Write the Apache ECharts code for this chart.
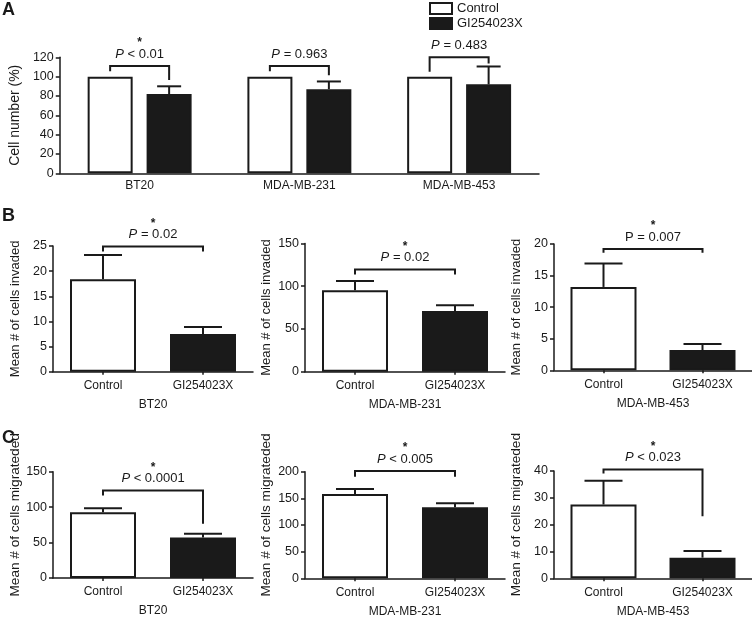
<!DOCTYPE html>
<html>
<head>
<meta charset="utf-8">
<script src="https://cdn.jsdelivr.net/npm/echarts@6/dist/echarts.min.js"></script>
<style>
html,body{margin:0;padding:0;background:#fff;}
#chart{width:752px;height:619px;}
</style>
</head>
<body>
<div id="chart"></div>
<script>
// ================= DATA =================
const cellLines = ['BT20', 'MDA-MB-231', 'MDA-MB-453'];
const treatments = ['Control', 'GI254023X'];

// Panel A: Cell number (%)
const aControl = [100, 100, 100];
const aControlErr = [0, 0, 0];
const aGI = [82, 87, 92];
const aGIErr = [8, 8, 18.5];
const aBracketTop = [111, 111, 120];
const aBracketLeftEnd = [105.5, 105.5, 105];
const aBracketRightEnd = [96.5, 101.5, 113.5];
const aPText = ['< 0.01', '= 0.963', '= 0.483'];
const aPItalic = [true, true, true];
const aStar = [true, false, false];
const aYTicks = [0, 20, 40, 60, 80, 100, 120];

// Panel B: Mean # of cells invaded
const bControl = [18.4, 95.3, 13.2];
const bControlErr = [4.8, 10.6, 3.7];
const bGI = [7.5, 71.1, 3.2];
const bGIErr = [1.4, 6.6, 0.95];
const bBracketTop = [24.9, 119.5, 19.2];
const bBracketLeftEnd = [23.9, 113.7, 18.6];
const bBracketRightEnd = [23.9, 113.7, 18.6];
const bPText = ['= 0.02', '= 0.02', '= 0.007'];
const bPItalic = [true, true, false];
const bStar = [true, true, true];
const bYTicks = [[0, 5, 10, 15, 20, 25], [0, 50, 100, 150], [0, 5, 10, 15, 20]];

// Panel C: Mean # of cells migrateded
const cControl = [92.9, 158.1, 27.5];
const cControlErr = [5.7, 9.4, 8.9];
const cGI = [57.1, 133.1, 7.7];
const cGIErr = [5.2, 7.5, 2.5];
const cBracketTop = [123.6, 201.3, 40.6];
const cBracketLeftEnd = [116.5, 190.6, 39.1];
const cBracketRightEnd = [76.4, 190.6, 23.1];
const cPText = ['< 0.0001', '< 0.005', '< 0.023'];
const cPItalic = [true, true, true];
const cStar = [true, true, true];
const cYTicks = [[0, 50, 100, 150], [0, 50, 100, 150, 200], [0, 10, 20, 30, 40]];

// ================= STYLE / LAYOUT =================
const FONT = '"Liberation Sans", Arial, Helvetica, sans-serif';
const INK = '#1a1a1a';
const WHITE = '#ffffff';
const colLeft = [53, 305, 554];
const colWidth = 200;

const grids = [], xAxes = [], yAxes = [], series = [];

function addAxes(g) {
  const gi = grids.length;
  grids.push({left: g.left, top: g.top, width: g.width, height: g.height});
  xAxes.push({
    type: 'category', gridIndex: gi, data: g.cats,
    axisLine: {lineStyle: {color: INK, width: 1.5}},
    axisTick: {show: g.xTick, alignWithLabel: true, length: 3, lineStyle: {color: INK, width: 1.5}},
    axisLabel: {color: INK, fontSize: 12, fontFamily: FONT, margin: g.labelMargin},
    name: g.xName || '', nameLocation: 'middle', nameGap: g.xNameGap || 0,
    nameTextStyle: {color: INK, fontSize: 12, fontFamily: FONT}
  });
  const t = g.ticks;
  yAxes.push({
    type: 'value', gridIndex: gi, min: t[0], max: t[t.length - 1], interval: t[1] - t[0],
    name: g.yName, nameLocation: 'middle', nameGap: g.yNameGap,
    nameTextStyle: {color: INK, fontSize: g.yNameSize, fontFamily: FONT, padding: g.yNamePad || 0},
    axisLine: {show: true, lineStyle: {color: INK, width: 1.5}},
    axisTick: {show: true, length: 4, lineStyle: {color: INK, width: 1.5}},
    axisLabel: {color: INK, fontSize: 12.5, fontFamily: FONT, margin: 6},
    splitLine: {show: false}
  });
  return gi;
}

function errorSeries(gi, items, slotOffset, capW) {
  // items: [catIndex, slot(-1/0/1), value, err]
  return {
    type: 'custom', xAxisIndex: gi, yAxisIndex: gi, clip: false, silent: true, z: 3,
    encode: {x: 0, y: 2}, data: items,
    renderItem: function (params, api) {
      const cat = api.value(0), slot = api.value(1), v = api.value(2), e = api.value(3);
      if (!e) return null;
      const base = api.coord([cat, v]);
      const top = api.coord([cat, v + e]);
      const x = base[0] + slot * slotOffset;
      return {type: 'group', children: [
        {type: 'line', shape: {x1: x, y1: base[1], x2: x, y2: top[1]}, style: {stroke: INK, lineWidth: 2}},
        {type: 'line', shape: {x1: x - capW / 2, y1: top[1], x2: x + capW / 2, y2: top[1]}, style: {stroke: INK, lineWidth: 2}}
      ]};
    }
  };
}

function bracketSeries(gi, items, labels, slotOffset) {
  // items: [leftCat, leftSlot, rightCat, rightSlot, top, leftEnd, rightEnd]
  return {
    type: 'custom', xAxisIndex: gi, yAxisIndex: gi, clip: false, silent: true, z: 4,
    encode: {x: 0, y: 4}, data: items,
    renderItem: function (params, api) {
      const lab = labels[params.dataIndex];
      const lc = api.value(0), ls = api.value(1), rc = api.value(2), rs = api.value(3);
      const top = api.value(4), le = api.value(5), re = api.value(6);
      const pt = api.coord([lc, top]);
      const xl = pt[0] + ls * slotOffset;
      const xr = api.coord([rc, top])[0] + rs * slotOffset;
      const yt = pt[1];
      const yl = api.coord([lc, le])[1];
      const yr = api.coord([rc, re])[1];
      const xm = (xl + xr) / 2;
      const txt = lab.italic ? '{i|P} ' + lab.p : 'P ' + lab.p;
      const children = [
        {type: 'polyline', shape: {points: [[xl, yl], [xl, yt], [xr, yt], [xr, yr]]},
         style: {stroke: INK, lineWidth: 2, fill: null}},
        {type: 'text', style: {
          text: txt, x: xm, y: yt - 12, align: 'center', verticalAlign: 'middle',
          fontSize: 13, fontFamily: FONT, fill: INK,
          rich: {i: {fontStyle: 'italic', fontSize: 13, fontFamily: FONT, fill: INK}}
        }}
      ];
      if (lab.star) {
        children.push({type: 'text', style: {
          text: '*', x: xm, y: yt - 23, align: 'center', verticalAlign: 'middle',
          fontSize: 12, fontWeight: 'bold', fontFamily: FONT, fill: INK
        }});
      }
      return {type: 'group', children: children};
    }
  };
}

// ---------- Panel A ----------
(function () {
  const gi = addAxes({left: 51, top: 57.3, width: 488, height: 116, cats: cellLines, xTick: false,
    labelMargin: 6, ticks: aYTicks, yName: 'Cell number (%)', yNameGap: 31, yNameSize: 14});
  const slot = 29.5;
  series.push({name: treatments[0], type: 'bar', xAxisIndex: gi, yAxisIndex: gi, barWidth: 45, barGap: '31%',
    itemStyle: {color: WHITE, borderColor: INK, borderWidth: 2}, data: aControl});
  series.push({name: treatments[1], type: 'bar', xAxisIndex: gi, yAxisIndex: gi, barWidth: 45, barGap: '31%',
    itemStyle: {color: INK, borderColor: INK, borderWidth: 2}, data: aGI});
  const err = [];
  cellLines.forEach(function (c, i) {
    err.push([i, -1, aControl[i], aControlErr[i]]);
    err.push([i, 1, aGI[i], aGIErr[i]]);
  });
  series.push(errorSeries(gi, err, slot, 24));
  const br = cellLines.map(function (c, i) {
    return [i, -1, i, 1, aBracketTop[i], aBracketLeftEnd[i], aBracketRightEnd[i]];
  });
  const labs = cellLines.map(function (c, i) { return {p: aPText[i], italic: aPItalic[i], star: aStar[i]}; });
  series.push(bracketSeries(gi, br, labs, slot));
})();

// ---------- Panels B & C ----------
function addRow(rowTop, rowHeight, ctrl, ctrlErr, gi_, giErr, bTop, bLeft, bRight, pText, pItalic, star, ticksArr, yName, nameGaps, yNamePad, yNameSize) {
  cellLines.forEach(function (line, i) {
    const gi = addAxes({left: colLeft[i], top: rowTop[i], width: colWidth, height: rowHeight[i],
      cats: treatments, xTick: true, labelMargin: 8, ticks: ticksArr[i], yName: yName,
      yNameGap: nameGaps[i], yNamePad: yNamePad, yNameSize: yNameSize, xName: line, xNameGap: 27});
    series.push({type: 'bar', xAxisIndex: gi, yAxisIndex: gi, barWidth: 66,
      data: [
        {value: ctrl[i], itemStyle: {color: WHITE, borderColor: INK, borderWidth: 2}},
        {value: gi_[i], itemStyle: {color: INK, borderColor: INK, borderWidth: 2}}
      ]});
    series.push(errorSeries(gi, [[0, 0, ctrl[i], ctrlErr[i]], [1, 0, gi_[i], giErr[i]]], 0, 38));
    series.push(bracketSeries(gi, [[0, 0, 1, 0, bTop[i], bLeft[i], bRight[i]]],
      [{p: pText[i], italic: pItalic[i], star: star[i]}], 0));
  });
}

addRow([246, 243.4, 244], [125.7, 128.3, 126.3], bControl, bControlErr, bGI, bGIErr,
  bBracketTop, bBracketLeftEnd, bBracketRightEnd, bPText, bPItalic, bStar, bYTicks,
  'Mean # of cells invaded', [31, 32, 31], 0, 13);

addRow([471.7, 471.7, 471], [106.3, 106.6, 107.3], cControl, cControlErr, cGI, cGIErr,
  cBracketTop, cBracketLeftEnd, cBracketRightEnd, cPText, cPItalic, cStar, cYTicks,
  'Mean # of cells migrateded', [31, 32, 31], [0, 0, 0, 20], 13.6);

const option = {
  backgroundColor: '#ffffff',
  animation: false,
  textStyle: {fontFamily: FONT},
  title: [
    {text: 'A', left: 2, top: 1, padding: 0, textStyle: {fontSize: 18, fontWeight: 'bold', color: INK, fontFamily: FONT}},
    {text: 'B', left: 2, top: 207, padding: 0, textStyle: {fontSize: 18, fontWeight: 'bold', color: INK, fontFamily: FONT}},
    {text: 'C', left: 2, top: 429, padding: 0, textStyle: {fontSize: 18, fontWeight: 'bold', color: INK, fontFamily: FONT}}
  ],
  legend: {
    data: treatments, left: 429, top: 2, padding: 0, orient: 'vertical', icon: 'rect',
    itemWidth: 22, itemHeight: 11, itemGap: 2, selectedMode: false,
    textStyle: {fontSize: 13, color: INK, fontFamily: FONT}
  },
  grid: grids, xAxis: xAxes, yAxis: yAxes, series: series
};

const chart = echarts.init(document.getElementById('chart'), null, {renderer: 'canvas'});
chart.setOption(option);
</script>
</body>
</html>
